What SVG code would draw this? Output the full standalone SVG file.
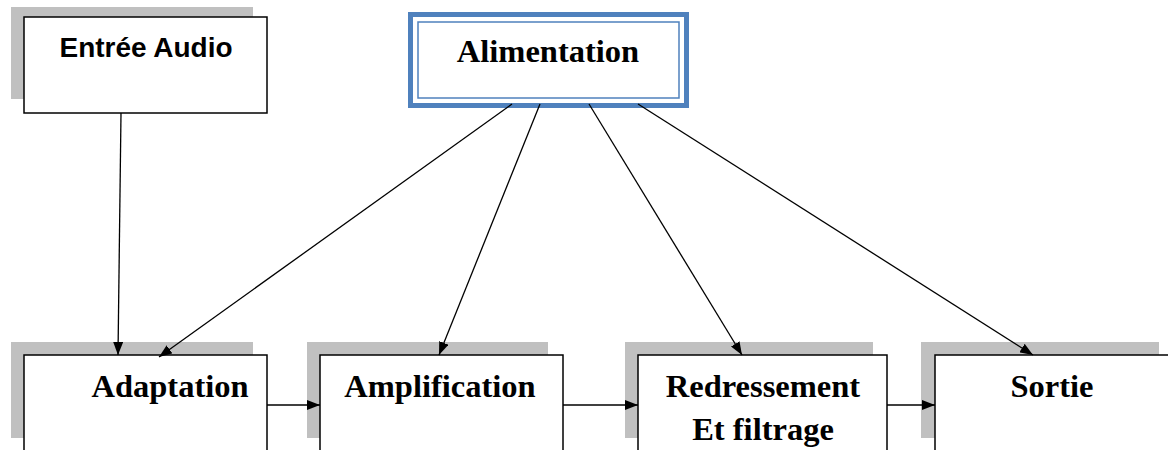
<svg xmlns="http://www.w3.org/2000/svg" width="1168" height="450" viewBox="0 0 1168 450">
<style>
.shadow{fill:#c0c0c0}
.box{fill:#fff;stroke:#000;stroke-width:1.5}
.serif{font-family:"Liberation Serif","Times New Roman",serif;font-weight:bold;font-size:32.5px;fill:#000}
.sans{font-family:"Liberation Sans",Arial,sans-serif;font-weight:bold;font-size:28px;fill:#000}
.conn{stroke:#000;stroke-width:1.3;fill:none;marker-end:url(#ah)}
</style>
<defs>
<marker id="ah" viewBox="0 0 13 10" refX="13" refY="5" markerWidth="13" markerHeight="10" markerUnits="userSpaceOnUse" orient="auto">
<path d="M0,0 L13,5 L0,10 z" fill="#000"/>
</marker>
</defs>
<rect width="1168" height="450" fill="#fff"/>
<g id="entree">
<rect class="shadow" x="11" y="7" width="242" height="92"/>
<rect class="box" x="24" y="17" width="243" height="96"/>
<text class="sans" x="146" y="57" text-anchor="middle" textLength="173" lengthAdjust="spacingAndGlyphs">Entrée Audio</text>
</g>
<g id="alimentation">
<rect x="410.5" y="14.5" width="276" height="91" fill="#fff" stroke="#4f81bd" stroke-width="5"/>
<rect x="418" y="22" width="261" height="76" fill="none" stroke="#4f81bd" stroke-width="1.5"/>
<text class="serif" x="548" y="62" text-anchor="middle">Alimentation</text>
</g>
<g id="adaptation">
<rect class="shadow" x="11" y="342" width="242" height="96"/>
<rect class="box" x="24" y="355" width="243" height="110"/>
<text class="serif" x="170" y="397" text-anchor="middle">Adaptation</text>
</g>
<g id="amplification">
<rect class="shadow" x="307" y="342" width="241" height="96"/>
<rect class="box" x="320" y="355" width="243" height="110"/>
<text class="serif" x="440" y="397" text-anchor="middle">Amplification</text>
</g>
<g id="redressement">
<rect class="shadow" x="625" y="342" width="248" height="96"/>
<rect class="box" x="638" y="355" width="249" height="110"/>
<text class="serif" x="763" y="397" text-anchor="middle">Redressement</text>
<text class="serif" x="763" y="440" text-anchor="middle">Et filtrage</text>
</g>
<g id="sortie">
<rect class="shadow" x="921" y="342" width="238" height="96"/>
<rect class="box" x="935" y="355" width="250" height="110"/>
<text class="serif" x="1052" y="397" text-anchor="middle">Sortie</text>
</g>
<g id="connectors">
<line class="conn" x1="121" y1="113" x2="118" y2="355"/>
<line class="conn" x1="512" y1="104" x2="159" y2="357"/>
<line class="conn" x1="540" y1="104" x2="439" y2="355"/>
<line class="conn" x1="589" y1="104" x2="742" y2="355"/>
<line class="conn" x1="638" y1="104" x2="1033" y2="355"/>
<line class="conn" x1="267" y1="405" x2="320" y2="405"/>
<line class="conn" x1="563" y1="405" x2="638" y2="405"/>
<line class="conn" x1="887" y1="405" x2="935" y2="405"/>
</g>
</svg>
